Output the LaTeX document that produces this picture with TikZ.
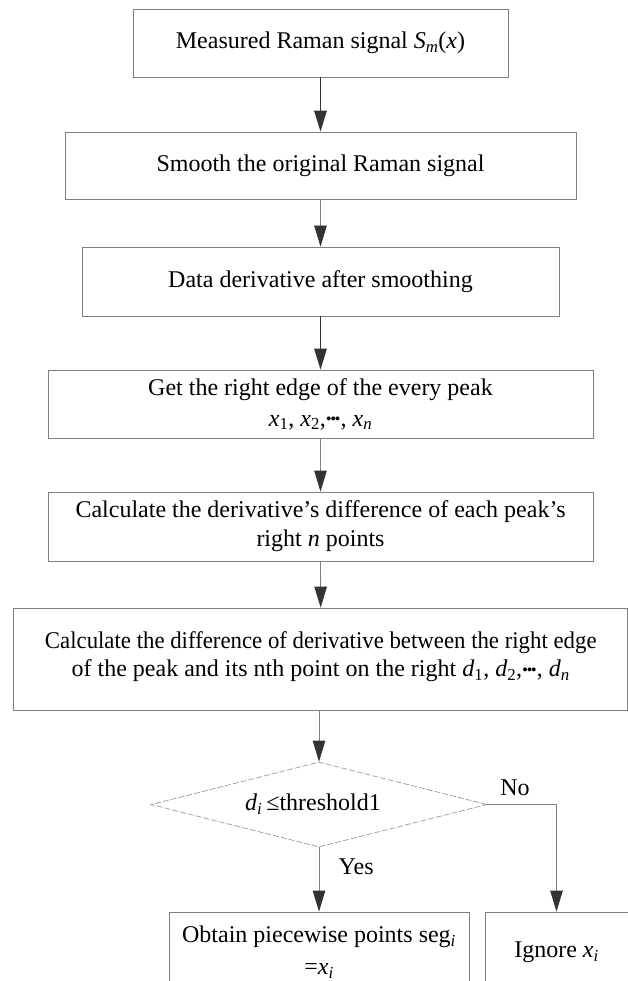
\documentclass[tikz,border=0pt]{standalone}
\usepackage{fontspec}
\setmainfont{Liberation Serif}
\usetikzlibrary{arrows.meta,shapes.geometric}
\definecolor{boxgray}{HTML}{7F7F7F}
\definecolor{conngray}{HTML}{808080}
\definecolor{headgray}{HTML}{333333}
\definecolor{diagray}{HTML}{9A9A9A}
\newcommand{\iv}[1]{\textit{#1}}
\newcommand{\isub}[1]{\textsubscript{\textit{#1}}}
\newcommand{\mdots}{\raisebox{0.24em}{\textbf{.}\kern-0.07em\textbf{.}\kern-0.07em\textbf{.}}}
\begin{document}
\begin{tikzpicture}[x=1pt,y=-1pt,
  txt/.style={font=\fontsize{24}{29}\selectfont},
  box/.style={txt, draw=boxgray, line width=0.8pt, inner sep=0pt, align=center},
  conn/.style={draw=conngray, line width=0.8pt, -{Triangle[length=21pt,width=12.5pt,color=headgray]}},
  darkconn/.style={conn, draw=headgray, line width=1.6pt},
  decision/.style={txt, diamond, draw=diagray, line width=0.7pt, dash pattern=on 6pt off 2pt, inner sep=0pt, shape aspect=3.95, minimum width=336pt, minimum height=85pt}
]
\useasboundingbox (0,0) rectangle (627,981);

\node[box, minimum width=375pt, minimum height=68pt] (b1) at (320.5,43) {Measured Raman signal \iv{S}\isub{m}(\iv{x})};
\node[box, minimum width=511pt, minimum height=67pt] (b2) at (320.5,165.5) {Smooth the original Raman signal};
\node[box, minimum width=477pt, minimum height=69pt] (b3) at (320.5,281.5) {Data derivative after smoothing};
\node[box, minimum width=545pt, minimum height=68pt] (b4) at (320.5,404) {Get the right edge of the every peak\\[2pt]\iv{x}\textsubscript{1}, \iv{x}\textsubscript{2},\mdots, \iv{x}\isub{n}};
\node[box, minimum width=545pt, minimum height=69pt] (b5) at (320.5,526.5) {Calculate the derivative’s difference of each peak’s\\right \iv{n} points};
\node[box, minimum width=614pt, minimum height=102pt] (b6) at (320.75,659) {\scalebox{0.95}[1]{Calculate the difference of derivative between the right edge}\\[-1pt]of the peak and its nth point on the right \iv{d}\textsubscript{1}, \iv{d}\textsubscript{2},\mdots, \iv{d}\isub{n}\\[-20pt]};
\node[decision] (dec) at (319,804.5) {\iv{d}\isub{i}\,≤threshold1\kern12pt};
\node[box, minimum width=300pt, minimum height=80pt] (seg) at (319,952) {Obtain piecewise points seg\isub{i}\\[3pt]=\iv{x}\isub{i}};
\node[box, minimum width=143pt, minimum height=80pt] (ign) at (556.5,952) {Ignore \iv{x}\isub{i}};

\draw[darkconn] (b1) -- (b2);
\draw[conn] (b2) -- (b3);
\draw[darkconn] (b3) -- (b4);
\draw[conn] (b4) -- (b5);
\draw[conn] (b5) -- (b6);
\draw[conn] (b6.south -| dec.north) -- (dec.north);
\draw[conn] (dec.south) -- node[txt, right=16pt, pos=0.3] (yes) {Yes} (seg.north -| dec.south);
\draw[conn] (dec.east) -- node[txt, above=5pt, pos=0.4] (no) {No} (dec.east -| ign.north) -- (ign.north);
\end{tikzpicture}
\end{document}
